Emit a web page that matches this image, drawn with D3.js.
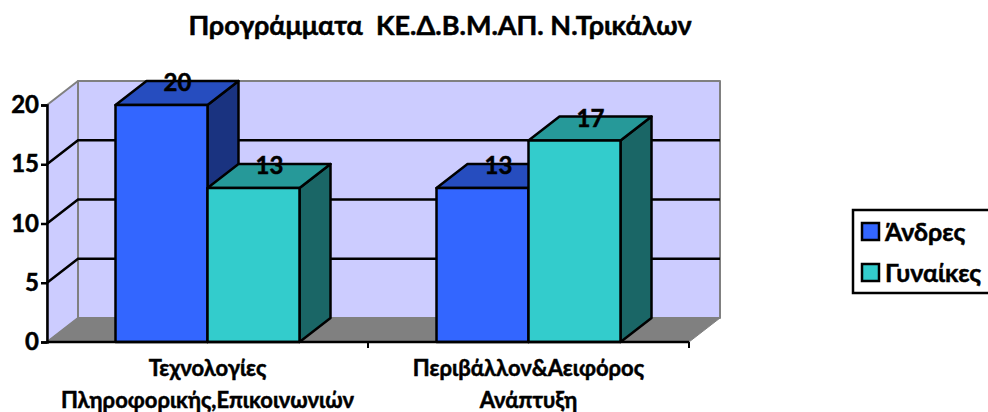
<!DOCTYPE html>
<html>
<head>
    <meta charset="utf-8">
    <title>Προγράμματα ΚΕ.Δ.Β.Μ.ΑΠ.</title>
    <script src="https://cdn.jsdelivr.net/npm/d3@7"></script>
    <style>
      html, body { margin: 0; padding: 0; background: #fff; overflow: hidden; }
      text { font-family: Lato, "Noto Sans", sans-serif; font-weight: 700; fill: #000; stroke: #000; stroke-width: 0.5px; }
    </style>
</head>
<body>
<script>
var chartTitle = "Προγράμματα  ΚΕ.Δ.Β.Μ.ΑΠ. Ν.Τρικάλων"
var categories = [["Τεχνολογίες", "Πληροφορικής,Επικοινωνιών"], ["Περιβάλλον&Αειφόρος", "Ανάπτυξη"]]
var seriesNames = ["Άνδρες", "Γυναίκες"]
var andres = [20, 13]
var gynaikes = [13, 17]
var yTicks = [0, 5, 10, 15, 20]

var colors = [
    {front: "#3366ff", top: "#264dbf", side: "#1a3380"},
    {front: "#33cccc", top: "#269999", side: "#1a6666"}
]

var w = 988
var h = 412
var svg = d3.select("body").append("svg").attr("width", w).attr("height", h)

// 3d offset of the back plane
var dx = 31
var dy = -24

var x = d3.scaleBand().domain([0, 1]).range([47, 689])
var y = d3.scaleLinear().domain([0, 20]).range([342, 105])
// two touching bars in the middle of each band
var inner = d3.scaleBand().domain([0, 1]).range([68.5, x.bandwidth() - 68.5])

function poly(pts, fill, stroke, sw) {
    return svg.append("polygon")
        .attr("points", pts.map(function(p) { return p.join(",") }).join(" "))
        .attr("fill", fill)
        .attr("stroke", stroke)
        .attr("stroke-width", sw)
        .attr("stroke-linejoin", "round")
}

var x0 = x.range()[0], x1 = x.range()[1]
var y0 = y(0), yTop = y(20)

// walls and floor
poly([[x0, y0], [x0 + dx, y0 + dy], [x0 + dx, yTop + dy], [x0, yTop]], "#ccccff", "#808080", 2)
poly([[x0 + dx, y0 + dy], [x1 + dx, y0 + dy], [x1 + dx, yTop + dy], [x0 + dx, yTop + dy]], "#ccccff", "#808080", 2)
poly([[x0, y0], [x0 + dx, y0 + dy], [x1 + dx, y0 + dy], [x1, y0]], "#808080", "#808080", 1)

// gridlines
yTicks.filter(function(t) { return t > 0 && t < 20 }).forEach(function(t) {
    svg.append("path")
        .attr("d", d3.line()([[x0, y(t)], [x0 + dx, y(t) + dy], [x1 + dx, y(t) + dy]]))
        .attr("fill", "none")
        .attr("stroke", "#000")
        .attr("stroke-width", 2.5)
})

// bars, back to front
var labels = []
;[andres, gynaikes].forEach(function(vals, s) {
    vals.forEach(function(v, i) {
        var l = x(i) + inner(s)
        var r = l + inner.bandwidth()
        var t = y(v)
        var c = colors[s]
        poly([[r, t], [r + dx, t + dy], [r + dx, y0 + dy], [r, y0]], c.side, "#000", 2.5)
        poly([[l, t], [l + dx, t + dy], [r + dx, t + dy], [r, t]], c.top, "#000", 2.5)
        poly([[l, t], [r, t], [r, y0], [l, y0]], c.front, "#000", 2.5)
        labels.push({v: v, x: (l + r) / 2 + 16, y: t - 22})
    })
})

// axes
var yAxis = d3.axisLeft(y).tickValues(yTicks).tickSize(6).tickPadding(2).tickFormat(d3.format("d"))
var gy = svg.append("g").attr("transform", "translate(" + x0 + ",0)").call(yAxis)
gy.selectAll("path, line").attr("stroke", "#000").attr("stroke-width", 2.5)
gy.selectAll("text").style("font-size", "24px").attr("fill", "#000")

svg.append("path")
    .attr("d", d3.line()([[x1 - 0, y0], [x1, y0 + 6]]))
    .attr("stroke", "#000").attr("stroke-width", 2)
svg.append("path")
    .attr("d", d3.line()([[x(1), y0], [x(1), y0 + 6]]))
    .attr("stroke", "#000").attr("stroke-width", 2)
svg.append("path")
    .attr("d", d3.line()([[x0, y0], [x1, y0]]))
    .attr("stroke", "#000").attr("stroke-width", 2.5)

// category labels
categories.forEach(function(lines, i) {
    lines.forEach(function(txt, k) {
        svg.append("text")
            .attr("x", x(i) + x.bandwidth() / 2)
            .attr("y", 376 + k * 32)
            .attr("text-anchor", "middle")
            .style("font-size", "22px")
            .text(txt)
    })
})

// value labels
svg.selectAll(".val").data(labels).enter().append("text")
    .attr("class", "val")
    .attr("x", function(d) { return d.x })
    .attr("y", function(d) { return d.y + 8 })
    .attr("text-anchor", "middle")
    .style("font-size", "24px")
    .text(function(d) { return d.v })

// title
svg.append("text")
    .attr("x", 440).attr("y", 35)
    .attr("text-anchor", "middle")
    .style("font-size", "27px")
    .style("white-space", "pre")
    .text(chartTitle)

// legend, its right edge runs off the picture
svg.append("rect")
    .attr("x", 853).attr("y", 210).attr("width", 145).attr("height", 83)
    .attr("fill", "#fff").attr("stroke", "#000").attr("stroke-width", 2.5)
seriesNames.forEach(function(name, i) {
    var ly = 223 + i * 41
    svg.append("rect")
        .attr("x", 862).attr("y", ly).attr("width", 17).attr("height", 17)
        .attr("fill", colors[i].front).attr("stroke", "#000").attr("stroke-width", 2.5)
    svg.append("text")
        .attr("x", 885).attr("y", ly + 18)
        .style("font-size", "25px")
        .text(name)
})
</script>
</body>
</html>
